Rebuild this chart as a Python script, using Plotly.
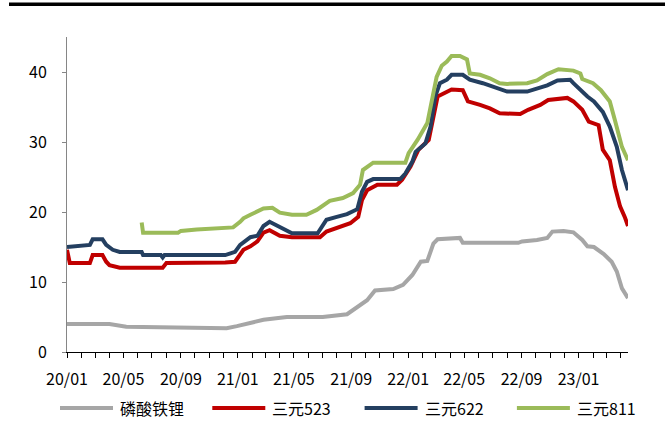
import plotly.graph_objects as go

# --- series data -----------------------------------------------------------
names = ["磷酸铁锂", "三元523", "三元622", "三元811"]
colors = ["#A6A6A6", "#C00000", "#243F60", "#9BBB59"]

lfp_dates = ["2020-01-01", "2020-04-01", "2020-05-07", "2020-07-01", "2020-11-03", "2020-12-08",
             "2020-12-30", "2021-01-28", "2021-02-25", "2021-04-16", "2021-07-02", "2021-08-23",
             "2021-09-14", "2021-10-05", "2021-10-22", "2021-11-30", "2021-12-21", "2022-01-10",
             "2022-01-28", "2022-02-11", "2022-02-24", "2022-03-05", "2022-04-22", "2022-04-28",
             "2022-08-25", "2022-09-02", "2022-10-04", "2022-10-26", "2022-11-06", "2022-11-30",
             "2022-12-21", "2023-01-09", "2023-01-20", "2023-02-03", "2023-02-24", "2023-03-13",
             "2023-03-24", "2023-04-04", "2023-04-17"]
lfp = [4.0, 4.0, 3.6, 3.55, 3.47, 3.4,
       3.7, 4.1, 4.6, 5.0, 5.0, 5.4,
       6.4, 7.4, 8.8, 9.0, 9.6, 11.0,
       12.9, 13.0, 15.5, 16.1, 16.3, 15.6,
       15.6, 15.8, 16.0, 16.3, 17.2, 17.3,
       17.1, 16.0, 15.1, 15.0, 14.0, 12.9,
       11.5, 9.1, 7.7]

ncm523_dates = ["2020-01-01", "2020-01-07", "2020-02-19", "2020-02-25", "2020-03-17", "2020-03-25",
                "2020-04-01", "2020-04-23", "2020-07-24", "2020-08-01", "2020-12-05", "2020-12-26",
                "2021-01-13", "2021-01-28", "2021-02-12", "2021-02-25", "2021-03-10", "2021-04-01",
                "2021-04-27", "2021-06-26", "2021-07-10", "2021-08-08", "2021-08-30", "2021-09-16",
                "2021-09-24", "2021-10-05", "2021-10-27", "2021-12-08", "2021-12-19", "2022-01-06",
                "2022-01-23", "2022-02-14", "2022-02-24", "2022-03-05", "2022-03-20", "2022-04-04",
                "2022-04-28", "2022-05-09", "2022-06-04", "2022-06-25", "2022-07-16", "2022-08-29",
                "2022-09-15", "2022-10-11", "2022-10-28", "2022-12-08", "2022-12-21", "2023-01-09",
                "2023-01-23", "2023-02-13", "2023-02-22", "2023-03-09", "2023-03-20", "2023-03-31",
                "2023-04-10", "2023-04-17"]
ncm523 = [14.6, 12.7, 12.7, 13.85, 13.85, 12.9,
          12.4, 12.05, 12.05, 12.7, 12.8, 12.9,
          14.6, 15.1, 15.8, 17.05, 17.4, 16.6,
          16.4, 16.4, 17.2, 17.9, 18.4, 19.3,
          21.7, 23.1, 23.9, 23.9, 24.6, 26.5,
          28.9, 30.3, 33.6, 36.5, 37.0, 37.5,
          37.4, 35.8, 35.3, 34.8, 34.1, 34.0,
          34.6, 35.3, 36.0, 36.3, 35.8, 34.6,
          32.9, 32.4, 28.9, 27.4, 23.6, 20.8,
          19.3, 18.0]

ncm622_dates = ["2020-01-01", "2020-02-19", "2020-02-25", "2020-03-17", "2020-03-25", "2020-04-08",
                "2020-04-23", "2020-06-09", "2020-06-12", "2020-07-20", "2020-07-24", "2020-07-28",
                "2020-12-05", "2020-12-26", "2021-01-06", "2021-01-28", "2021-02-12", "2021-02-25",
                "2021-03-10", "2021-04-01", "2021-04-27", "2021-06-21", "2021-07-10", "2021-08-01",
                "2021-08-23", "2021-09-14", "2021-09-24", "2021-10-05", "2021-10-18", "2021-12-15",
                "2021-12-26", "2022-01-10", "2022-01-17", "2022-02-07", "2022-02-18", "2022-02-28",
                "2022-03-10", "2022-03-25", "2022-04-04", "2022-04-28", "2022-05-13", "2022-06-10",
                "2022-07-10", "2022-08-01", "2022-09-13", "2022-10-04", "2022-10-26", "2022-11-17",
                "2022-12-14", "2022-12-21", "2023-01-05", "2023-01-20", "2023-02-03", "2023-02-22",
                "2023-03-09", "2023-03-24", "2023-04-04", "2023-04-17"]
ncm622 = [15.0, 15.3, 16.1, 16.1, 15.3, 14.6,
          14.3, 14.3, 13.85, 13.85, 13.5, 13.85,
          13.85, 14.3, 15.3, 16.4, 16.6, 18.0,
          18.6, 17.8, 16.95, 16.95, 18.9, 19.3,
          19.7, 20.4, 22.9, 24.3, 24.7, 24.7,
          25.5, 27.2, 28.6, 29.8, 32.2, 36.5,
          38.4, 38.9, 39.6, 39.6, 38.9, 38.4,
          37.7, 37.2, 37.2, 37.7, 38.1, 38.8,
          38.9, 38.4, 37.4, 36.5, 35.8, 34.3,
          32.2, 29.3, 26.0, 23.1]

ncm811_dates = ["2020-06-09", "2020-06-12", "2020-08-26", "2020-09-01", "2020-10-05", "2020-12-16",
                "2020-12-22", "2021-01-06", "2021-01-13", "2021-01-28", "2021-02-25", "2021-03-16",
                "2021-04-01", "2021-04-27", "2021-05-28", "2021-06-19", "2021-07-17", "2021-08-14",
                "2021-09-05", "2021-09-20", "2021-09-26", "2021-10-18", "2021-12-26", "2022-01-02",
                "2022-01-21", "2022-02-11", "2022-02-22", "2022-03-03", "2022-03-14", "2022-03-25",
                "2022-04-04", "2022-04-22", "2022-05-07", "2022-05-13", "2022-06-04", "2022-06-25",
                "2022-07-16", "2022-08-01", "2022-09-13", "2022-10-04", "2022-10-26", "2022-11-19",
                "2022-12-21", "2023-01-05", "2023-01-09", "2023-02-01", "2023-02-18", "2023-03-09",
                "2023-03-20", "2023-04-04", "2023-04-17"]
ncm811 = [18.5, 17.05, 17.05, 17.3, 17.5, 17.7,
          17.8, 18.6, 19.1, 19.6, 20.5, 20.6,
          19.9, 19.6, 19.6, 20.3, 21.6, 22.0,
          22.7, 23.9, 26.0, 27.05, 27.05, 28.4,
          30.3, 32.7, 36.0, 39.3, 40.9, 41.5,
          42.3, 42.3, 41.8, 39.8, 39.6, 39.1,
          38.4, 38.3, 38.4, 38.8, 39.7, 40.4,
          40.2, 39.8, 39.0, 38.4, 37.4, 35.8,
          33.1, 29.3, 27.4]

series_dates = [lfp_dates, ncm523_dates, ncm622_dates, ncm811_dates]
series_values = [lfp, ncm523, ncm622, ncm811]

x_start, x_end = "2020-01-01", "2023-04-17"
y_ticks = [0, 10, 20, 30, 40]

# --- figure ----------------------------------------------------------------
W, H = 671, 442
L, R, T, B = 67, 43, 37, 90
plot_w, plot_h = W - L - R, H - T - B
FONT = "Noto Sans CJK SC, Noto Sans, sans-serif"


def px_x(px):
    return (px - L) / plot_w


def px_y(py):
    return (H - B - py) / plot_h


fig = go.Figure()
for name, color, xs, ys in zip(names, colors, series_dates, series_values):
    fig.add_trace(go.Scatter(
        x=xs, y=ys, name=name, mode="lines",
        line=dict(color=color, width=4),
        showlegend=False,
    ))

shapes = [
    # heavy rule across the top of the page
    dict(type="line", xref="paper", yref="paper",
         x0=px_x(9), x1=px_x(665), y0=px_y(4.3), y1=px_y(4.3),
         line=dict(color="#000000", width=3.5)),
]
annotations = []

# legend row drawn below the axis
leg_x0, leg_step, leg_len, leg_gap, leg_y = 60, 152.3, 53, 5, 408
for i, (name, color) in enumerate(zip(names, colors)):
    x0 = leg_x0 + i * leg_step
    shapes.append(dict(type="line", xref="paper", yref="paper",
                       x0=px_x(x0), x1=px_x(x0 + leg_len), y0=px_y(leg_y), y1=px_y(leg_y),
                       line=dict(color=color, width=4)))
    annotations.append(dict(text=name, xref="paper", yref="paper",
                            x=px_x(x0 + leg_len + leg_gap), y=px_y(leg_y),
                            xanchor="left", yanchor="middle", showarrow=False,
                            font=dict(family=FONT, size=16, color="#000000")))

fig.update_layout(
    width=W, height=H,
    margin=dict(l=L, r=R, t=T, b=B, pad=0),
    paper_bgcolor="white", plot_bgcolor="white",
    font=dict(family=FONT, size=16, color="#000000"),
    shapes=shapes, annotations=annotations,
    showlegend=False,
)
fig.update_xaxes(
    type="date", range=[x_start, x_end],
    tick0="2020-01-01", dtick="M4", tickformat="%y/%m",
    ticks="outside", ticklen=5, tickwidth=1, tickcolor="#000000",
    minor=dict(dtick="M1", ticks="outside", ticklen=5, tickwidth=1, tickcolor="#000000"),
    showline=True, linecolor="#000000", linewidth=1,
    showgrid=False, zeroline=False,
    ticklabelstandoff=8,
    tickfont=dict(family=FONT, size=16, color="#000000"),
)
fig.update_yaxes(
    range=[0, 45], tickvals=y_ticks,
    ticks="outside", ticklen=4, tickwidth=1, tickcolor="#868686",
    showline=True, linecolor="#868686", linewidth=1,
    showgrid=False, zeroline=False,
    ticklabelstandoff=12,
    tickfont=dict(family=FONT, size=16, color="#000000"),
)

fig.write_html("out.html")
